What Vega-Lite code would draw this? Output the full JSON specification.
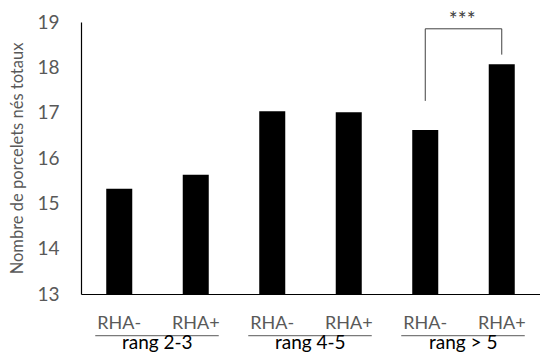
{
  "$schema": "https://vega.github.io/schema/vega-lite/v6.json",
  "width": 459,
  "height": 272,
  "autosize": "none",
  "padding": {"left": 81, "top": 22, "right": 0, "bottom": 60},
  "config": {"view": {"stroke": null}, "font": "Lato"},
  "datasets": {
    "bars": [
      {"cat": "2-3|RHA-", "value": 15.32},
      {"cat": "2-3|RHA+", "value": 15.63},
      {"cat": "4-5|RHA-", "value": 17.03},
      {"cat": "4-5|RHA+", "value": 17.01},
      {"cat": ">5|RHA-", "value": 16.62},
      {"cat": ">5|RHA+", "value": 18.07}
    ],
    "groups": [
      {"a": "2-3|RHA-", "b": "2-3|RHA+", "t": "rang 2-3"},
      {"a": "4-5|RHA-", "b": "4-5|RHA+", "t": "rang 4-5"},
      {"a": ">5|RHA-", "b": ">5|RHA+", "t": "rang > 5"}
    ],
    "bracket": [
      {"a": ">5|RHA-", "b": ">5|RHA+", "y1": 18.85, "y2": 18.85},
      {"a": ">5|RHA-", "b": ">5|RHA-", "y1": 17.26, "y2": 18.85},
      {"a": ">5|RHA+", "b": ">5|RHA+", "y1": 18.28, "y2": 18.85}
    ],
    "stars": [
      {"a": ">5|RHA-", "t": "***"}
    ]
  },
  "layer": [
    {
      "data": {"name": "bars"},
      "mark": {"type": "bar", "color": "black", "clip": true},
      "encoding": {
        "x": {
          "field": "cat",
          "type": "nominal",
          "scale": {
            "domain": ["2-3|RHA-", "2-3|RHA+", "4-5|RHA-", "4-5|RHA+", ">5|RHA-", ">5|RHA+"],
            "paddingInner": 0.66,
            "paddingOuter": 0.33
          },
          "axis": {
            "title": null,
            "domainColor": "black",
            "domainWidth": 1.2,
            "ticks": false,
            "labelAngle": 0,
            "labelFontSize": 18,
            "labelColor": "#595959",
            "labelPadding": 20,
            "labelExpr": "split(datum.label, '|')[1]"
          }
        },
        "y": {
          "field": "value",
          "type": "quantitative",
          "scale": {"domain": [13, 19], "nice": false, "zero": false},
          "axis": {
            "values": [13, 14, 15, 16, 17, 18, 19],
            "grid": false,
            "ticks": false,
            "domainColor": "black",
            "domainWidth": 1.2,
            "labelFontSize": 19,
            "labelColor": "#595959",
            "labelPadding": 22,
            "title": "Nombre de porcelets nés totaux",
            "titleFontSize": 16.5,
            "titleFontWeight": "normal",
            "titleColor": "#595959",
            "titlePadding": 11
          }
        }
      }
    },
    {
      "data": {"name": "bracket"},
      "mark": {"type": "rule", "color": "#404040", "strokeWidth": 1},
      "encoding": {
        "x": {"field": "a", "type": "nominal"},
        "x2": {"field": "b"},
        "y": {"field": "y1", "type": "quantitative"},
        "y2": {"field": "y2"}
      }
    },
    {
      "data": {"name": "stars"},
      "mark": {"type": "text", "fontSize": 21, "color": "#404040", "baseline": "middle", "dx": 37},
      "encoding": {
        "x": {"field": "a", "type": "nominal"},
        "y": {"datum": 19.02, "type": "quantitative"},
        "text": {"field": "t"}
      }
    },
    {
      "data": {"name": "groups"},
      "mark": {"type": "rule", "color": "#595959", "strokeWidth": 1, "xOffset": -24, "x2Offset": 23},
      "encoding": {
        "x": {"field": "a", "type": "nominal"},
        "x2": {"field": "b"},
        "y": {"datum": 12.08, "type": "quantitative"}
      }
    },
    {
      "data": {"name": "groups"},
      "mark": {"type": "text", "fontSize": 19, "color": "black", "baseline": "alphabetic", "dx": 38},
      "encoding": {
        "x": {"field": "a", "type": "nominal"},
        "y": {"datum": 11.79, "type": "quantitative"},
        "text": {"field": "t"}
      }
    }
  ]
}
